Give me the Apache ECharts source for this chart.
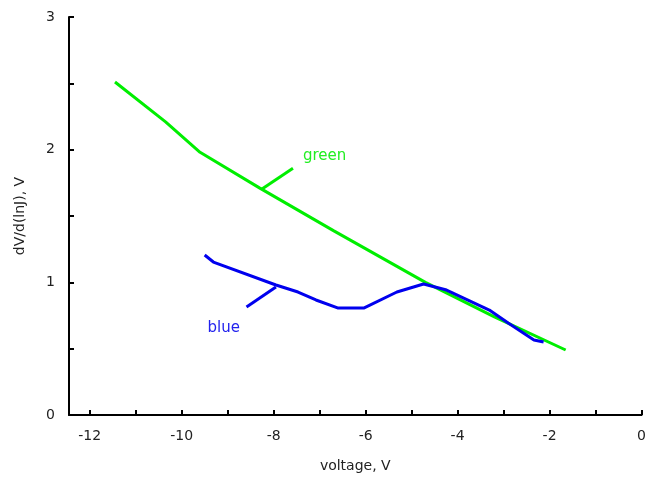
<!DOCTYPE html>
<html>
<head>
<meta charset="utf-8">
<script src="https://cdn.jsdelivr.net/npm/echarts@6/dist/echarts.min.js"></script>
<style>html,body{margin:0;padding:0;background:#fff;}#c{width:649px;height:487px;}</style>
</head>
<body>
<div id="c"></div>
<script>
var greenX = [-11.45, -10.35, -9.6, -8.3, -6.7, -4.7, -3.2, -1.65];
var greenY = [2.51, 2.21, 1.98, 1.71, 1.39, 1.0, 0.74, 0.49];
var blueX = [-9.5, -9.31, -7.95, -7.47, -7.08, -6.61, -6.03, -5.32, -4.74, -4.24, -3.31, -2.9, -2.34, -2.13];
var blueY = [1.206, 1.153, 0.98, 0.927, 0.867, 0.807, 0.807, 0.927, 0.987, 0.942, 0.791, 0.693, 0.565, 0.55];
var greenPointerX = [-8.27, -7.58];
var greenPointerY = [1.70, 1.86];
var bluePointerX = [-7.95, -8.59];
var bluePointerY = [0.965, 0.814];
var xTicks = [-12, -11, -10, -9, -8, -7, -6, -5, -4, -3, -2, -1, 0];
var xLabels = [-12, -10, -8, -6, -4, -2, 0];
var yLabels = [0, 1, 2, 3];
var seriesNames = ['green', 'blue'];

function zip(a, b) { return a.map(function (v, i) { return [v, b[i]]; }); }

var greenCol = '#00ee00';
var blueCol = '#0000ee';
var font = 'DejaVu Sans';

var chart = echarts.init(document.getElementById('c'));
chart.setOption({
  animation: false,
  grid: { left: 69, right: 1, top: 17, bottom: 72 },
  xAxis: {
    type: 'value', min: -12.45, max: 0,
    name: 'voltage, V', nameLocation: 'middle', nameGap: 44,
    nameTextStyle: { fontFamily: font, fontSize: 14, color: '#222' },
    axisLine: { onZero: false, lineStyle: { color: '#000', width: 2 } },
    axisTick: { inside: true, length: 5, customValues: xTicks, lineStyle: { color: '#000', width: 2 } },
    axisLabel: { customValues: xLabels, margin: 14, fontFamily: font, fontSize: 14, color: '#222' },
    splitLine: { show: false }
  },
  yAxis: {
    type: 'value', min: 0, max: 3, interval: 0.5,
    name: 'dV/d(lnJ), V', nameLocation: 'middle', nameGap: 42, nameRotate: 90,
    nameTextStyle: { fontFamily: font, fontSize: 14, color: '#222' },
    axisLine: { show: true, onZero: false, lineStyle: { color: '#000', width: 2 } },
    axisTick: { show: true, inside: true, length: 5, lineStyle: { color: '#000', width: 2 } },
    axisLabel: { customValues: yLabels, margin: 14, fontFamily: font, fontSize: 14, color: '#222' },
    splitLine: { show: false }
  },
  series: [
    { name: seriesNames[0], type: 'line', data: zip(greenX, greenY), showSymbol: false, symbol: 'none',
      lineStyle: { color: greenCol, width: 3 } },
    { name: seriesNames[1], type: 'line', data: zip(blueX, blueY), showSymbol: false, symbol: 'none',
      lineStyle: { color: blueCol, width: 3 } },
    { type: 'line', data: zip(greenPointerX, greenPointerY), symbol: 'none',
      lineStyle: { color: greenCol, width: 3 },
      markPoint: { symbol: 'circle', symbolSize: 0, data: [{ coord: [greenPointerX[1], greenPointerY[1]] }],
        label: { show: true, formatter: seriesNames[0], position: [10, -20], fontFamily: font, fontSize: 15, color: '#22ee22' } } },
    { type: 'line', data: zip(bluePointerX, bluePointerY), symbol: 'none',
      lineStyle: { color: blueCol, width: 3 },
      markPoint: { symbol: 'circle', symbolSize: 0, data: [{ coord: [bluePointerX[1], bluePointerY[1]] }],
        label: { show: true, formatter: seriesNames[1], position: [-39, 14], fontFamily: font, fontSize: 15, color: '#2222ee' } } }
  ]
});
</script>
</body>
</html>
